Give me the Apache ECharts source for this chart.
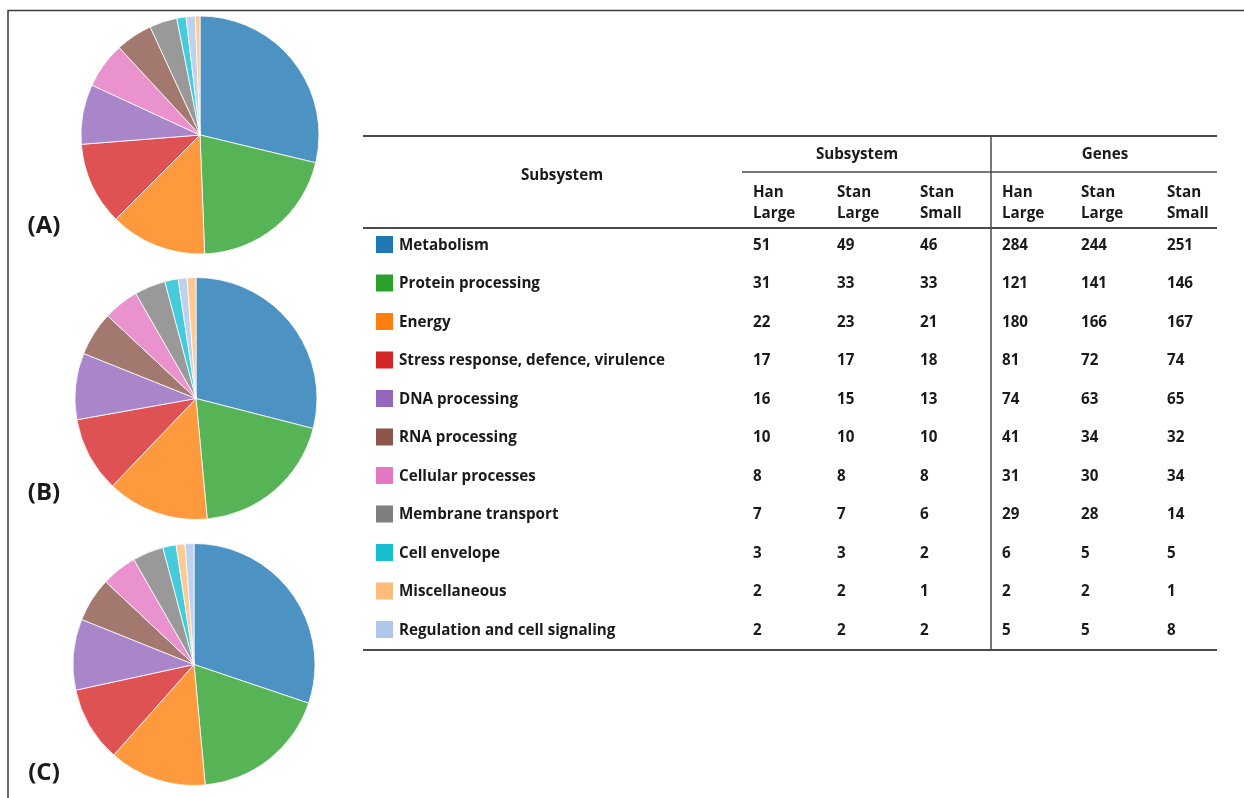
<!DOCTYPE html>
<html>
<head>
<meta charset="utf-8">
<script src="https://cdn.jsdelivr.net/npm/echarts@6/dist/echarts.min.js"></script>
<style>
  html, body { margin: 0; padding: 0; background: #fff; }
  #chart { width: 1244px; height: 798px; }
</style>
</head>
<body>
<div id="chart"></div>
<script>
// Functional categories (table rows, legend order)
const categories = [
  'Metabolism',
  'Protein processing',
  'Energy',
  'Stress response, defence, virulence',
  'DNA processing',
  'RNA processing',
  'Cellular processes',
  'Membrane transport',
  'Cell envelope',
  'Miscellaneous',
  'Regulation and cell signaling'
];
const categoryColors = [
  '#1f77b4', '#2ca02c', '#ff7f0e', '#d62728', '#9467bd', '#8c564b',
  '#e377c2', '#7f7f7f', '#17becf', '#ffbb78', '#aec7e8'
];

// Table columns
const groupLabels = ['Subsystem', 'Genes'];
const columnLabels = ['Han\nLarge', 'Stan\nLarge', 'Stan\nSmall', 'Han\nLarge', 'Stan\nLarge', 'Stan\nSmall'];
const subsysHanLarge  = [51, 31, 22, 17, 16, 10, 8, 7, 3, 2, 2];
const subsysStanLarge = [49, 33, 23, 17, 15, 10, 8, 7, 3, 2, 2];
const subsysStanSmall = [46, 33, 21, 18, 13, 10, 8, 6, 2, 1, 2];
const genesHanLarge   = [284, 121, 180, 81, 74, 41, 31, 29, 6, 2, 5];
const genesStanLarge  = [244, 141, 166, 72, 63, 34, 30, 28, 5, 2, 5];
const genesStanSmall  = [251, 146, 167, 74, 65, 32, 34, 14, 5, 1, 8];

// Pie panels: slice order (clockwise from 12 o'clock) and values
const panelLabels = ['(A)', '(B)', '(C)'];
const pieANames = [
  'Metabolism', 'Protein processing', 'Energy', 'Stress response, defence, virulence',
  'DNA processing', 'Cellular processes', 'RNA processing', 'Membrane transport',
  'Cell envelope', 'Regulation and cell signaling', 'Miscellaneous'
];
const pieAValues = [46, 33, 21, 18, 13, 10, 8, 6, 2, 2, 1];
const pieBNames = [
  'Metabolism', 'Protein processing', 'Energy', 'Stress response, defence, virulence',
  'DNA processing', 'RNA processing', 'Cellular processes', 'Membrane transport',
  'Cell envelope', 'Regulation and cell signaling', 'Miscellaneous'
];
const pieBValues = [49, 33, 23, 17, 15, 10, 8, 7, 3, 2, 2];
const pieCNames = [
  'Metabolism', 'Protein processing', 'Energy', 'Stress response, defence, virulence',
  'DNA processing', 'RNA processing', 'Cellular processes', 'Membrane transport',
  'Cell envelope', 'Miscellaneous', 'Regulation and cell signaling'
];
const pieCValues = [51, 31, 22, 17, 16, 10, 8, 7, 3, 2, 2];

const FONT = '"Open Sans", Lato, sans-serif';
const FONT_SIZE = 15.2;
const TEXT_COLOR = '#1a1a1a';
const RULE_COLOR = '#4a4a4a';

function colorOf(name) {
  return categoryColors[categories.indexOf(name)];
}

function pieSeries(names, values, center, radius) {
  return {
    type: 'pie',
    center: center,
    radius: radius,
    startAngle: 90,
    clockwise: true,
    label: { show: false },
    labelLine: { show: false },
    itemStyle: { borderColor: '#ffffff', borderWidth: 1, opacity: 0.8 },
    data: names.map((n, i) => ({
      name: n,
      value: values[i],
      itemStyle: { color: colorOf(n) }
    }))
  };
}

// ---- Table drawn with graphic elements ----
const tableLeft = 363, tableRight = 1217;
const tableTop = 136, groupRuleY = 172, headerBottom = 228, tableBottom = 650;
const dividerX = 991;
const colX = [753, 837, 920, 1002, 1081, 1167];
const rowY0 = 245.5, rowStep = 38.5;
const columns = [subsysHanLarge, subsysStanLarge, subsysStanSmall,
                 genesHanLarge, genesStanLarge, genesStanSmall];

const graphics = [];
function hline(x1, x2, y, w) {
  graphics.push({ type: 'line', shape: { x1: x1, y1: y, x2: x2, y2: y },
    style: { stroke: RULE_COLOR, lineWidth: w }, silent: true });
}
function vline(x, y1, y2, w) {
  graphics.push({ type: 'line', shape: { x1: x, y1: y1, x2: x, y2: y2 },
    style: { stroke: RULE_COLOR, lineWidth: w }, silent: true });
}
function text(str, x, y, align, size, lh) {
  graphics.push({ type: 'text', x: x, y: y, silent: true,
    style: { text: str, fill: TEXT_COLOR, font: 'bold ' + size + 'px ' + FONT,
      textAlign: align, textVerticalAlign: 'middle', lineHeight: lh || size * 1.2 } });
}

// Figure frame (top and left edges)
graphics.push({ type: 'polyline', silent: true,
  shape: { points: [[8, 798], [8, 10.5], [1244, 10.5]] },
  style: { stroke: '#3a3a3a', lineWidth: 1.5, fill: null } });

// Rules
hline(tableLeft, tableRight, tableTop, 2);
hline(742, tableRight, groupRuleY, 1.5);
hline(tableLeft, tableRight, headerBottom, 2);
hline(tableLeft, tableRight, tableBottom, 2);
vline(dividerX, tableTop, tableBottom, 1.5);

// Headers
text('Subsystem', 562, 176, 'center', FONT_SIZE);
text(groupLabels[0], 857, 155, 'center', FONT_SIZE);
text(groupLabels[1], 1105, 155, 'center', FONT_SIZE);
columnLabels.forEach((lab, i) => text(lab, colX[i], 203, 'left', FONT_SIZE, 21));

// Body rows: legend swatch, category name, values
categories.forEach((cat, r) => {
  const y = rowY0 + r * rowStep;
  graphics.push({ type: 'rect', silent: true,
    shape: { x: 376, y: y - 9.5, width: 17, height: 17 },
    style: { fill: categoryColors[r] } });
  text(cat, 399, y, 'left', FONT_SIZE);
  columns.forEach((col, c) => text(String(col[r]), colX[c], y, 'left', FONT_SIZE));
});

// Panel letters
const panelY = [226, 493, 773];
panelLabels.forEach((lab, i) => text(lab, 44, panelY[i], 'center', 24));

const chart = echarts.init(document.getElementById('chart'), null, { renderer: 'canvas' });
chart.setOption({
  backgroundColor: '#ffffff',
  animation: false,
  series: [
    pieSeries(pieANames, pieAValues, [200, 135], 119),
    pieSeries(pieBNames, pieBValues, [196, 398.5], 121),
    pieSeries(pieCNames, pieCValues, [194, 664.5], 121)
  ],
  graphic: graphics
});
</script>
</body>
</html>
